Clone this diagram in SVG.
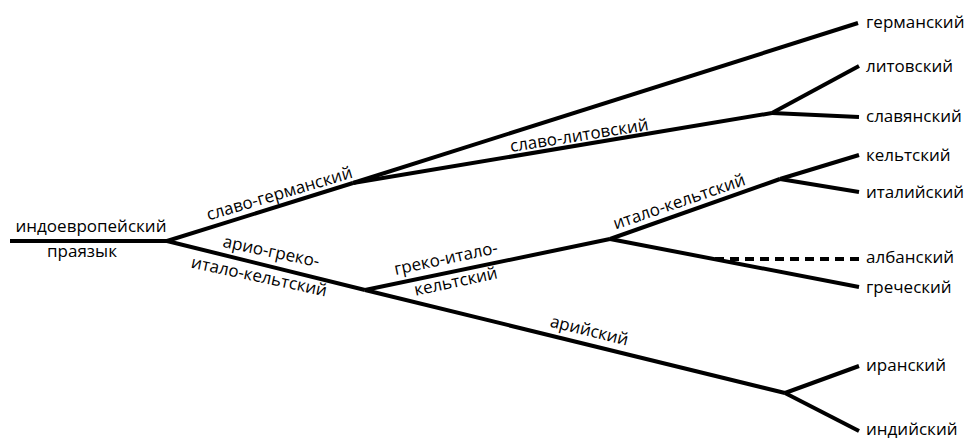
<svg xmlns="http://www.w3.org/2000/svg" width="967" height="440" viewBox="0 0 967 440">
<style>
.e{stroke:#000;stroke-width:4;fill:none;stroke-linejoin:round}
.d{stroke-dasharray:9 6}
text{font-family:"Open Sans","Noto Sans","DejaVu Sans",sans-serif;font-size:17px;fill:#000}
.m{text-anchor:middle}
</style>
<rect width="967" height="440" fill="#fff"/>
<g id="connectors">
<path class="e" d="M10,241 H167"/>
<path class="e" d="M167,241 L353,183"/>
<path class="e" d="M167,241 L365,290"/>
<path class="e" d="M353,183 L858,23"/>
<path class="e" d="M353,183 L772,113"/>
<path class="e" d="M772,113 L859,66"/>
<path class="e" d="M772,113 L859,117"/>
<path class="e" d="M365,290 L610,239"/>
<path class="e" d="M610,239 L780,179"/>
<path class="e" d="M780,179 L859,155"/>
<path class="e" d="M780,179 L859,192"/>
<path class="e" d="M610,239 L859,287"/>
<path class="e d" d="M715,259 H859"/>
<path class="e" d="M365,290 L785,393"/>
<path class="e" d="M785,393 L859,366"/>
<path class="e" d="M785,393 L859,431"/>
</g>
<g id="root">
<text class="m" x="91" y="232">индоевропейский</text>
<text class="m" x="82" y="257">праязык</text>
</g>
<g id="slavo-germanic"><text class="m" transform="translate(281,199) rotate(-16.5)">славо-германский</text></g>
<g id="ario-greco-italo-celtic">
<text class="m" transform="translate(270,257) rotate(12)">арио-греко-</text>
<text class="m" transform="translate(258,282) rotate(12)">итало-кельтский</text>
</g>
<g id="slavo-lithuanian"><text class="m" transform="translate(580,141) rotate(-9)">славо-литовский</text></g>
<g id="greco-italo-celtic">
<text class="m" transform="translate(447,264) rotate(-12)">греко-итало-</text>
<text class="m" transform="translate(457,287) rotate(-12)">кельтский</text>
</g>
<g id="italo-celtic"><text class="m" transform="translate(681,207) rotate(-19)">итало-кельтский</text></g>
<g id="aryan"><text class="m" transform="translate(588,336) rotate(13.8)">арийский</text></g>
<g id="germanic"><text x="866" y="28">германский</text></g>
<g id="lithuanian"><text x="866" y="72">литовский</text></g>
<g id="slavic"><text x="866" y="122">славянский</text></g>
<g id="celtic"><text x="866" y="161">кельтский</text></g>
<g id="italic"><text x="866" y="198">италийский</text></g>
<g id="albanian"><text x="866" y="263">албанский</text></g>
<g id="greek"><text x="866" y="293">греческий</text></g>
<g id="iranian"><text x="866" y="371">иранский</text></g>
<g id="indian"><text x="866" y="435">индийский</text></g>
</svg>
